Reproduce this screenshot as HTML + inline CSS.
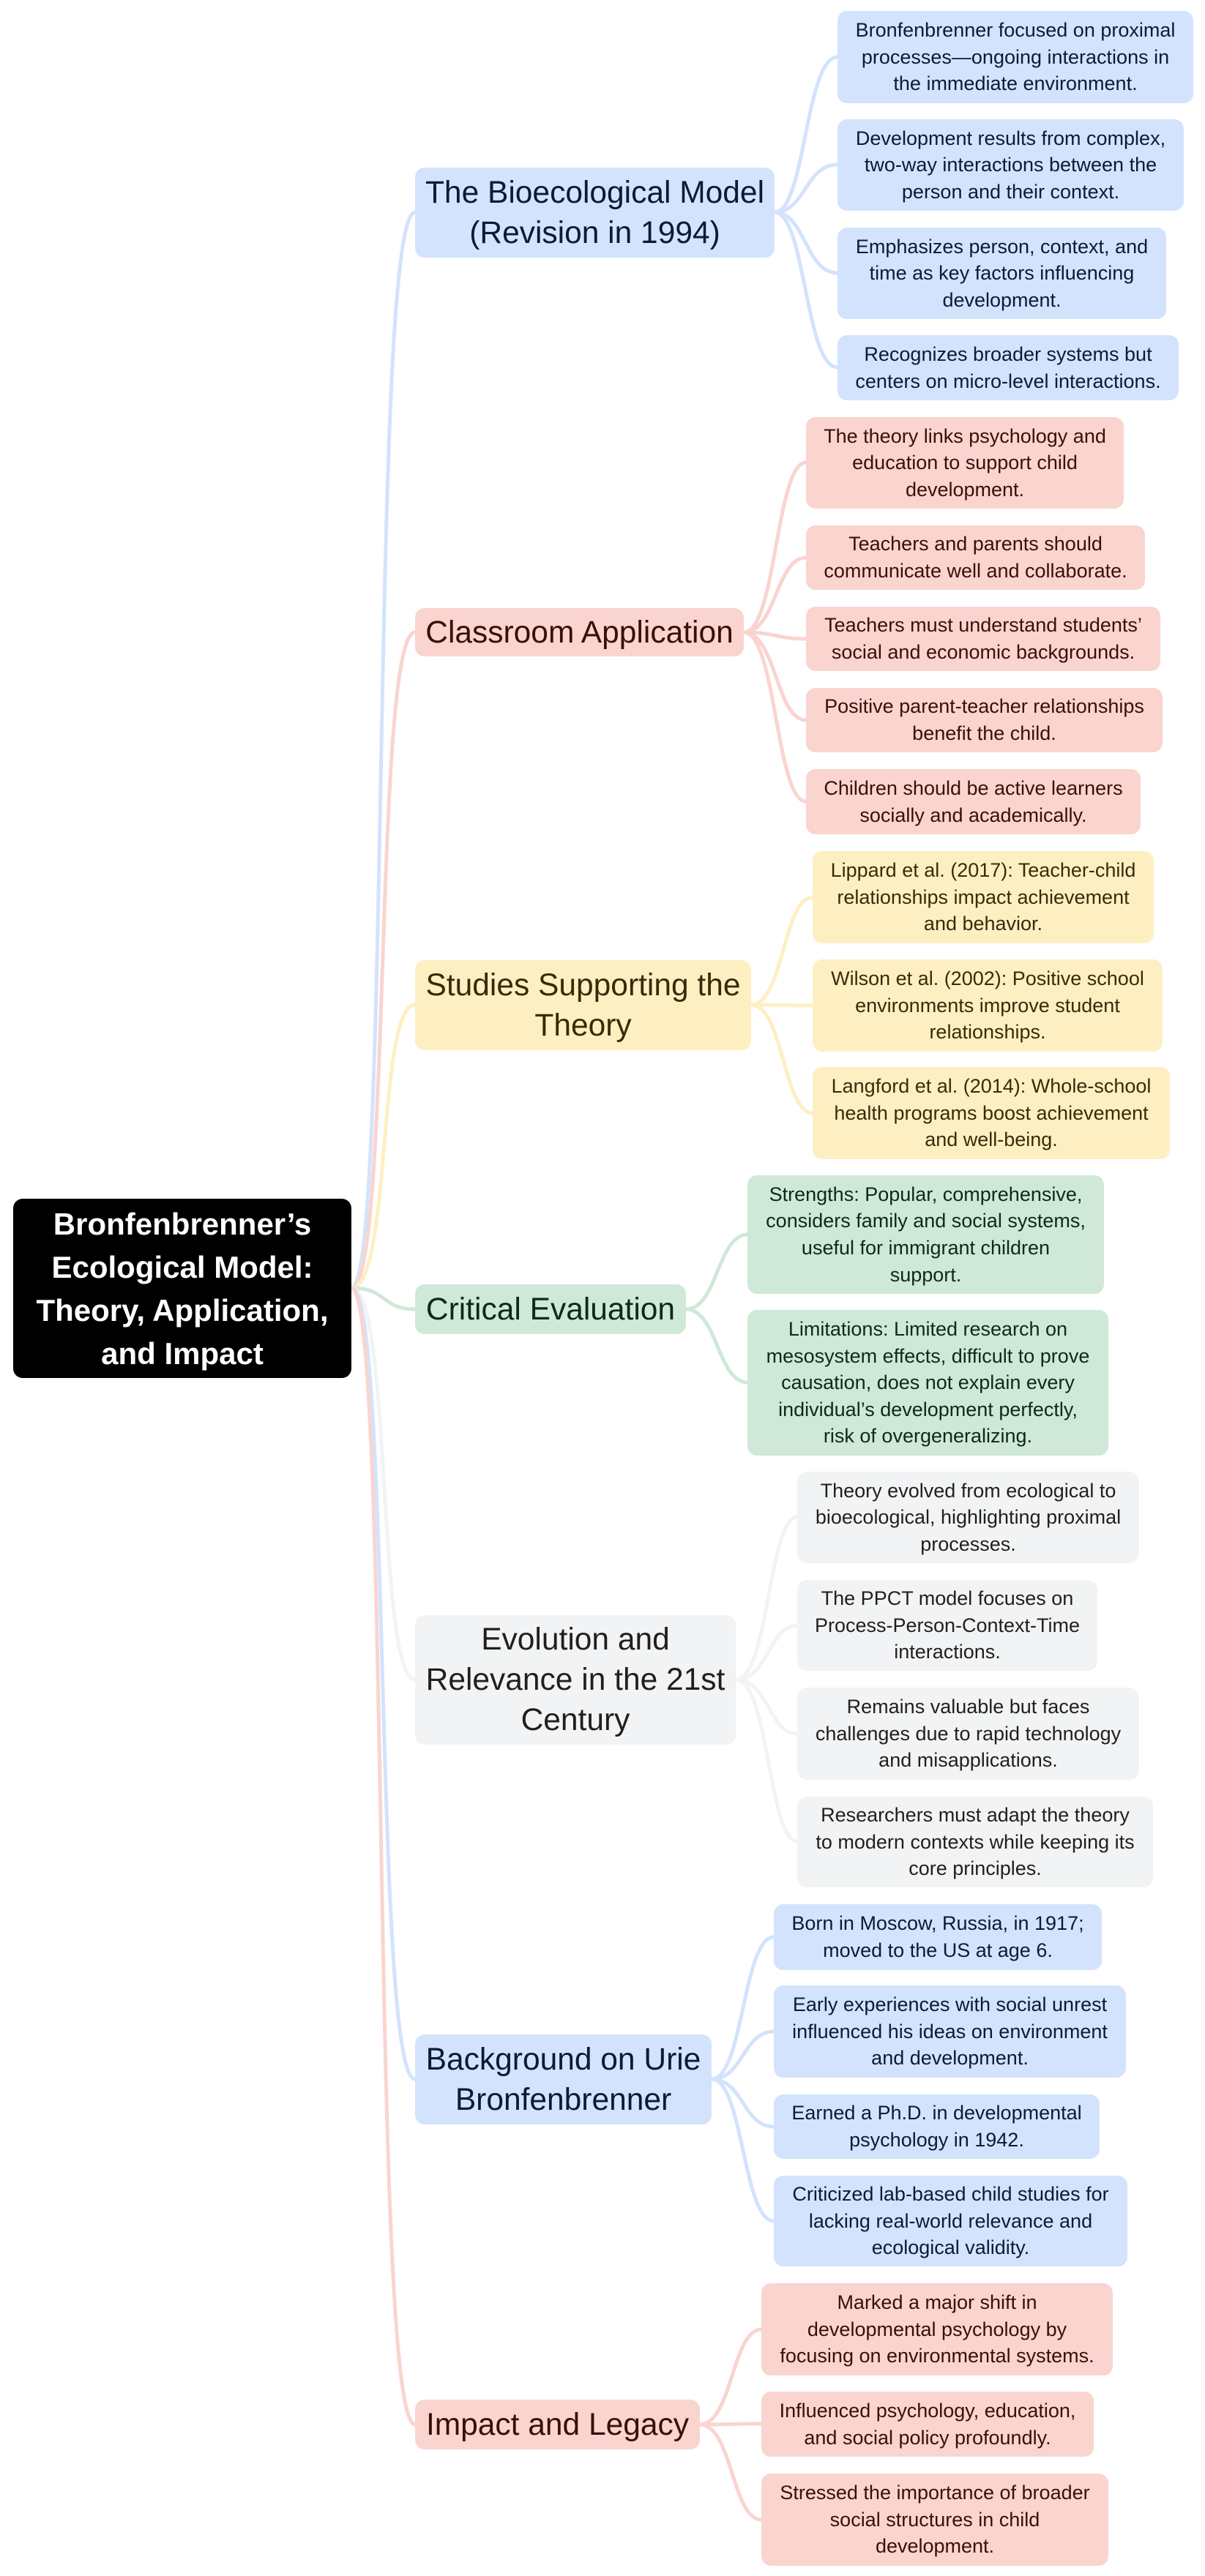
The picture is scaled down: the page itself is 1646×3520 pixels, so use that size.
<!DOCTYPE html>
<html><head><meta charset="utf-8"><style>
*{margin:0;padding:0;box-sizing:border-box}
body{width:1646px;height:3520px;background:#fff;position:relative;overflow:hidden;font-family:"Liberation Sans",Arial,sans-serif}
.n{position:absolute;display:flex;align-items:center;justify-content:center;text-align:center;border-radius:13px}
.m{font-size:42.5px;line-height:55px;padding:0 12px}
.c{font-size:27px;line-height:36.6px;padding:0 20px}
.b{background:#d3e3fd;color:#0b1a36}
.r{background:#fad4cf;color:#3a0f0a}
.y{background:#feefc3;color:#3a2a08}
.g{background:#cfe8d8;color:#0d2a17}
.s{background:#f1f3f4;color:#1f1f1f}
svg{position:absolute;left:0;top:0}
</style></head><body>
<svg width="1646" height="3520" fill="none" stroke-width="5" stroke-linecap="round">
<g>
<path d="M480,1760 C535,1760 505,290 567,290" stroke="#d3e3fd"/>
<path d="M480,1760 C535,1760 510,864 567,864" stroke="#fad4cf"/>
<path d="M480,1760 C535,1760 515,1373 567,1373" stroke="#feefc3"/>
<path d="M480,1760 C530,1760 520,1789 567,1789" stroke="#cfe8d8"/>
<path d="M480,1760 C535,1760 515,2295 567,2295" stroke="#f1f3f4"/>
<path d="M480,1760 C535,1760 510,2841 567,2841" stroke="#d3e3fd"/>
<path d="M480,1760 C535,1760 505,3313 567,3313" stroke="#fad4cf"/>
</g>
<g stroke="#d3e3fd">
<path d="M1058,290 C1100,290 1100,78 1144,78"/>
<path d="M1058,290 C1100,290 1100,225 1144,225"/>
<path d="M1058,290 C1100,290 1100,373 1144,373"/>
<path d="M1058,290 C1100,290 1100,502 1144,502"/>
</g>
<g stroke="#fad4cf">
<path d="M1016,864 C1060,864 1060,632 1101,632"/>
<path d="M1016,864 C1060,864 1060,762 1101,762"/>
<path d="M1016,864 C1060,864 1060,873 1101,873"/>
<path d="M1016,864 C1060,864 1060,984 1101,984"/>
<path d="M1016,864 C1060,864 1060,1095 1101,1095"/>
</g>
<g stroke="#feefc3">
<path d="M1026,1373 C1070,1373 1070,1226 1110,1226"/>
<path d="M1026,1373 C1070,1373 1070,1374 1110,1374"/>
<path d="M1026,1373 C1070,1373 1070,1521 1110,1521"/>
</g>
<g stroke="#cfe8d8">
<path d="M937,1789 C980,1789 980,1687 1021,1687"/>
<path d="M937,1789 C980,1789 980,1889 1021,1889"/>
</g>
<g stroke="#f1f3f4">
<path d="M1005,2295 C1050,2295 1050,2073 1089,2073"/>
<path d="M1005,2295 C1050,2295 1050,2221 1089,2221"/>
<path d="M1005,2295 C1050,2295 1050,2369 1089,2369"/>
<path d="M1005,2295 C1050,2295 1050,2516 1089,2516"/>
</g>
<g stroke="#d3e3fd">
<path d="M972,2841 C1015,2841 1015,2647 1057,2647"/>
<path d="M972,2841 C1015,2841 1015,2776 1057,2776"/>
<path d="M972,2841 C1015,2841 1015,2906 1057,2906"/>
<path d="M972,2841 C1015,2841 1015,3035 1057,3035"/>
</g>
<g stroke="#fad4cf">
<path d="M956,3313 C1000,3313 1000,3183 1040,3183"/>
<path d="M956,3313 C1000,3313 1000,3312 1040,3312"/>
<path d="M956,3313 C1000,3313 1000,3443 1040,3443"/>
</g>
</svg>

<div class="n" style="left:18px;top:1638px;width:462px;height:245px;background:#000;color:#fff;font-weight:bold;font-size:42px;line-height:59px">Bronfenbrenner’s<br>Ecological Model:<br>Theory, Application,<br>and Impact</div>

<div class="n m b" style="left:567px;top:229px;width:491px;height:123px">The Bioecological Model<br>(Revision in 1994)</div>
<div class="n c b" style="left:1144px;top:15px;width:486px;height:126px">Bronfenbrenner focused on proximal<br>processes—ongoing interactions in<br>the immediate environment.</div>
<div class="n c b" style="left:1144px;top:163px;width:473px;height:125px">Development results from complex,<br>two-way interactions between the<br>person and their context.</div>
<div class="n c b" style="left:1144px;top:311px;width:449px;height:125px">Emphasizes person, context, and<br>time as key factors influencing<br>development.</div>
<div class="n c b" style="left:1144px;top:458px;width:466px;height:89px">Recognizes broader systems but<br>centers on micro-level interactions.</div>

<div class="n m r" style="left:567px;top:831px;width:449px;height:66px">Classroom Application</div>
<div class="n c r" style="left:1101px;top:570px;width:434px;height:125px">The theory links psychology and<br>education to support child<br>development.</div>
<div class="n c r" style="left:1101px;top:718px;width:463px;height:88px">Teachers and parents should<br>communicate well and collaborate.</div>
<div class="n c r" style="left:1101px;top:829px;width:484px;height:88px">Teachers must understand students’<br>social and economic backgrounds.</div>
<div class="n c r" style="left:1101px;top:940px;width:487px;height:88px">Positive parent-teacher relationships<br>benefit the child.</div>
<div class="n c r" style="left:1101px;top:1051px;width:457px;height:89px">Children should be active learners<br>socially and academically.</div>

<div class="n m y" style="left:567px;top:1312px;width:459px;height:123px">Studies Supporting the<br>Theory</div>
<div class="n c y" style="left:1110px;top:1163px;width:466px;height:126px">Lippard et al. (2017): Teacher-child<br>relationships impact achievement<br>and behavior.</div>
<div class="n c y" style="left:1110px;top:1311px;width:478px;height:126px">Wilson et al. (2002): Positive school<br>environments improve student<br>relationships.</div>
<div class="n c y" style="left:1110px;top:1458px;width:488px;height:126px">Langford et al. (2014): Whole-school<br>health programs boost achievement<br>and well-being.</div>

<div class="n m g" style="left:567px;top:1755px;width:370px;height:68px">Critical Evaluation</div>
<div class="n c g" style="left:1021px;top:1606px;width:487px;height:162px">Strengths: Popular, comprehensive,<br>considers family and social systems,<br>useful for immigrant children<br>support.</div>
<div class="n c g" style="left:1021px;top:1790px;width:493px;height:199px">Limitations: Limited research on<br>mesosystem effects, difficult to prove<br>causation, does not explain every<br>individual’s development perfectly,<br>risk of overgeneralizing.</div>

<div class="n m s" style="left:567px;top:2207px;width:438px;height:177px">Evolution and<br>Relevance in the 21st<br>Century</div>
<div class="n c s" style="left:1089px;top:2011px;width:467px;height:125px">Theory evolved from ecological to<br>bioecological, highlighting proximal<br>processes.</div>
<div class="n c s" style="left:1089px;top:2159px;width:410px;height:124px">The PPCT model focuses on<br>Process-Person-Context-Time<br>interactions.</div>
<div class="n c s" style="left:1089px;top:2306px;width:467px;height:126px">Remains valuable but faces<br>challenges due to rapid technology<br>and misapplications.</div>
<div class="n c s" style="left:1089px;top:2455px;width:486px;height:124px">Researchers must adapt the theory<br>to modern contexts while keeping its<br>core principles.</div>

<div class="n m b" style="left:567px;top:2780px;width:405px;height:123px">Background on Urie<br>Bronfenbrenner</div>
<div class="n c b" style="left:1057px;top:2602px;width:448px;height:90px">Born in Moscow, Russia, in 1917;<br>moved to the US at age 6.</div>
<div class="n c b" style="left:1057px;top:2713px;width:481px;height:126px">Early experiences with social unrest<br>influenced his ideas on environment<br>and development.</div>
<div class="n c b" style="left:1057px;top:2862px;width:445px;height:88px">Earned a Ph.D. in developmental<br>psychology in 1942.</div>
<div class="n c b" style="left:1057px;top:2973px;width:483px;height:124px">Criticized lab-based child studies for<br>lacking real-world relevance and<br>ecological validity.</div>

<div class="n m r" style="left:567px;top:3279px;width:389px;height:68px">Impact and Legacy</div>
<div class="n c r" style="left:1040px;top:3120px;width:480px;height:126px">Marked a major shift in<br>developmental psychology by<br>focusing on environmental systems.</div>
<div class="n c r" style="left:1040px;top:3268px;width:454px;height:89px">Influenced psychology, education,<br>and social policy profoundly.</div>
<div class="n c r" style="left:1040px;top:3380px;width:474px;height:126px">Stressed the importance of broader<br>social structures in child<br>development.</div>
</body></html>
